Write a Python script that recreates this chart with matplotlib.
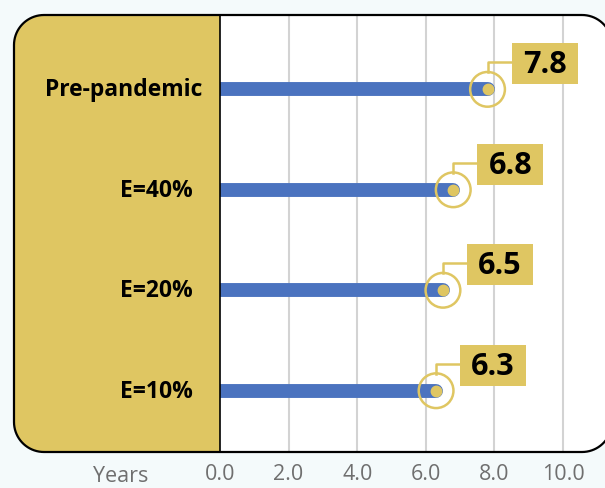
import numpy as np
import matplotlib.pyplot as plt
from matplotlib.patches import Polygon, Rectangle
from matplotlib.lines import Line2D
from matplotlib.transforms import IdentityTransform

plt.rcParams['font.family'] = ['Open Sans', 'DejaVu Sans']

# data
categories = ['E=10%', 'E=20%', 'E=40%', 'Pre-pandemic']
values = [6.3, 6.5, 6.8, 7.8]
xticks = [0, 2, 4, 6, 8, 10]
xtick_labels = ['0.0', '2.0', '4.0', '6.0', '8.0', '10.0']

yellow = '#dfc662'
blue = '#4b73bf'
grey = '#6f6f6f'
W, H = 605, 489

fig = plt.figure(figsize=(W / 100, H / 100), dpi=100)
fig.patch.set_facecolor('#f4fafb')
pix = IdentityTransform()  # display coords == pixels at dpi 100


def P(x, y):
    # pixel coords from top-left -> display coords
    return x, H - y


def rounded_rect(l, t, r, b, rad, n=20):
    # polygon of a rounded rectangle, pixel coords from top-left
    pts = []
    for cx, cy, a0 in [(r - rad, t + rad, -90), (r - rad, b - rad, 0),
                       (l + rad, b - rad, 90), (l + rad, t + rad, 180)]:
        a = np.radians(np.linspace(a0, a0 + 90, n))
        pts += [P(cx + rad * np.cos(ai), cy + rad * np.sin(ai)) for ai in a]
    return np.array(pts)


box_l, box_r, box_t, box_b = 14, 612, 16, 453
split = 220
verts = rounded_rect(box_l, box_t, box_r, box_b, 30)

fig.patches.append(Polygon(verts, closed=True, fc='white', ec='none', zorder=0,
                           transform=pix))
panel = Polygon(verts, closed=True, fc=yellow, ec='none', zorder=1, transform=pix)
panel.set_clip_path(Rectangle((0, 0), split, H, transform=pix))
fig.patches.append(panel)
fig.patches.append(Polygon(verts, closed=True, fc='none', ec='black', lw=1.6,
                           zorder=10, transform=pix))
fig.lines.append(Line2D([split, split], [H - box_t, H - box_b], transform=pix,
                        color='black', lw=1.2, zorder=10))

# plot axes
ax = fig.add_axes([split / W, 1 - box_b / H, (W - split) / W, (box_b - box_t) / H])
ax.set_zorder(5)
ax.set_facecolor('none')
ax.set_xlim(0, (W - split) / 34.3)
ax.set_ylim(-0.61, 3.74)
for s in ax.spines.values():
    s.set_visible(False)
ax.set_yticks([])
ax.set_xticks(xticks)
ax.set_xticklabels(xtick_labels, fontsize=15.5, color=grey)
ax.tick_params(axis='x', length=0, pad=8)
for t in xticks[1:]:
    ax.axvline(t, color='#d3d3d3', lw=1.5, zorder=1)

ys = list(range(len(categories)))
for y, v in zip(ys, values):
    ax.plot([0, v], [y, y], color=blue, lw=10, solid_capstyle='round', zorder=3)
ax.scatter(values, ys, s=25 ** 2, facecolors='none', edgecolors=yellow,
           linewidths=1.8, zorder=4, clip_on=False)
ax.scatter(values, ys, s=7.5 ** 2, color=yellow, zorder=5, clip_on=False)

# value callouts
for y, v in zip(ys, values):
    cx, dy = ax.transData.transform((v, y))
    cy = H - dy
    fig.lines.append(Line2D(*zip(P(cx, cy - 17), P(cx, cy - 27), P(cx + 25, cy - 27)),
                            transform=pix, color=yellow, lw=1.8, zorder=7))
    bx, by = cx + 24, cy - 46
    fig.patches.append(Rectangle(P(bx, by + 41), 66, 41, transform=pix,
                                 fc=yellow, ec='none', zorder=8))
    fig.text(*P(bx + 33, by + 21), f'{v:.1f}', ha='center', va='center',
             fontsize=22, fontweight='bold', color='black', zorder=9, transform=pix)

# category labels
label_right = {'Pre-pandemic': 202}
for y, c in zip(ys, categories):
    _, dy = ax.transData.transform((0, y))
    fig.text(*P(label_right.get(c, 193), H - dy), c, ha='right', va='center',
             fontsize=16.5, fontweight='bold', color='black', zorder=9, transform=pix)

fig.text(*P(121, 482), 'Years', ha='center', va='baseline', fontsize=15.5, color=grey,
         transform=pix)

fig.savefig('out.png', dpi=100, facecolor=fig.get_facecolor())
